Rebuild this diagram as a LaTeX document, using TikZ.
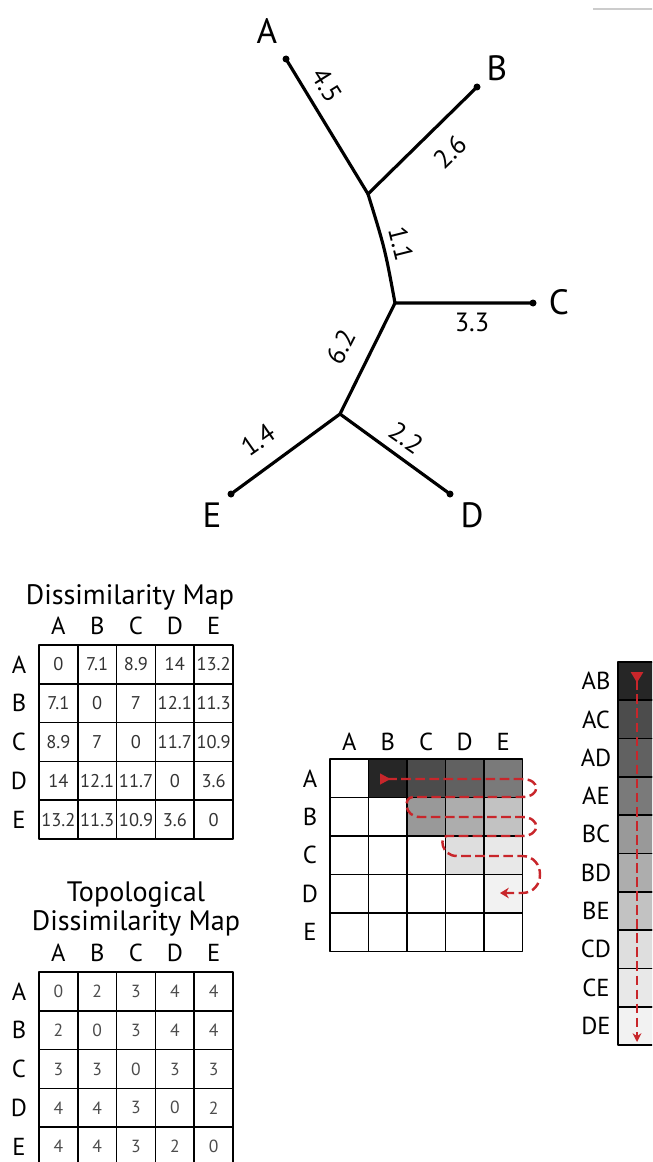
\documentclass[tikz,border=0pt]{standalone}
\usepackage{fontspec}
\setmainfont{PT Sans}
\usetikzlibrary{arrows.meta}
\definecolor{snakeRed}{HTML}{C8262B}
\tikzset{
  branch/.style={line width=1.8pt, line cap=round},
  leafdot/.style={circle, fill=black, inner sep=0pt, minimum size=1.4mm},
  taxon/.style={font=\fontsize{20}{22}\selectfont},
  blen/.style={font=\fontsize{15}{17}\selectfont, inner sep=1pt},
  maptitle/.style={font=\fontsize{16}{16.5}\selectfont, align=center},
  axislbl/.style={font=\fontsize{14}{16}\selectfont},
  cellbox/.style={draw=black, line width=1pt},
  cellnum/.style={font=\fontsize{10.5}{12}\selectfont, text=black!80},
  topnum/.style={font=\fontsize{10}{12}\selectfont, text=black!70},
  snake/.style={draw=snakeRed, line width=1.4pt, dash pattern=on 5.5pt off 2.5pt}
}

\begin{document}
\begin{tikzpicture}[x=0.02cm, y=-0.02cm, line join=round]
\useasboundingbox (0,0) rectangle (652,1162);
\clip (0,0) rectangle (652,1162);
% size of one matrix cell
\def\cellw{38.8}
% faint rule in the top right corner
\draw[black!20, line width=1.2pt] (593,9) -- (660,9);
% ---------------- tree ----------------
\node[leafdot] (A) at (286,59) {};
\node[leafdot] (B) at (477,87) {};
\node[leafdot] (C) at (533,303) {};
\node[leafdot] (D) at (450,494) {};
\node[leafdot] (E) at (231,494) {};
\coordinate (uAB) at (368,194);   % joins A and B
\coordinate (uC) at (395,303);    % joins C
\coordinate (uDE) at (340,414);   % joins D and E
\draw[branch] (A.center) -- (uAB) -- (B.center);
\draw[branch] (uAB) .. controls (385,249) .. (uC) -- (C.center);
\draw[branch] (uC) -- (uDE) -- (E.center);
\draw[branch] (uDE) -- (D.center);
\node[taxon] (labA) at (267,31) {A};
\node[taxon] (labB) at (497,68) {B};
\node[taxon] (labC) at (559,302) {C};
\node[taxon] (labD) at (472,515) {D};
\node[taxon] (labE) at (212,515) {E};
% branch lengths
\node[blen, rotate=-58] (lenA) at (327,85) {4.5};
\node[blen, rotate=44] (lenB) at (450,152) {2.6};
\node[blen, rotate=-76] (lenAB) at (401,244) {1.1};
\node[blen] (lenC) at (472,322) {3.3};
\node[blen, rotate=63] (lenDE) at (341,347) {6.2};
\node[blen, rotate=35] (lenE) at (258,440) {1.4};
\node[blen, rotate=-35] (lenD) at (406,438) {2.2};
% ---------------- Dissimilarity Map ----------------
\begin{scope}[shift={(39,645)}]
  \node[maptitle] (disTitle) at (91,-48) {Dissimilarity Map};
  \foreach \name [count=\j] in {A,B,C,D,E} {
    \node[axislbl] (disCol\name) at ({(\j-0.5)*\cellw},-19) {\name};
    \node[axislbl] (disRow\name) at (-20,{(\j-0.5)*\cellw}) {\name};
  }
  \foreach \vals [count=\i] in {{0,7.1,8.9,14,13.2},{7.1,0,7,12.1,11.3},{8.9,7,0,11.7,10.9},{14,12.1,11.7,0,3.6},{13.2,11.3,10.9,3.6,0}} {
    \foreach \v [count=\j] in \vals {
      \draw[cellbox] ({(\j-1)*\cellw},{(\i-1)*\cellw}) rectangle ++(\cellw,\cellw);
      \node[cellnum] (dis-\i-\j) at ({(\j-0.5)*\cellw},{(\i-0.5)*\cellw}) {\v};
    }
  }
\end{scope}
% ---------------- Topological Dissimilarity Map ----------------
\begin{scope}[shift={(39,972)}]
  \node[maptitle] (topTitle) at (97,-63) {Topological\\Dissimilarity Map};
  \foreach \name [count=\j] in {A,B,C,D,E} {
    \node[axislbl] (topCol\name) at ({(\j-0.5)*\cellw},-19) {\name};
    \node[axislbl] (topRow\name) at (-20,{(\j-0.5)*\cellw}) {\name};
  }
  \foreach \vals [count=\i] in {{0,2,3,4,4},{2,0,3,4,4},{3,3,0,3,3},{4,4,3,0,2},{4,4,3,2,0}} {
    \foreach \v [count=\j] in \vals {
      \draw[cellbox] ({(\j-1)*\cellw},{(\i-1)*\cellw}) rectangle ++(\cellw,\cellw);
      \node[topnum] (top-\i-\j) at ({(\j-0.5)*\cellw},{(\i-0.5)*\cellw}) {\v};
    }
  }
\end{scope}
% ---------------- upper triangle read in order ----------------
\begin{scope}[shift={(330,759)}]
  % shade the pairs above the diagonal, darkest first
  \foreach \i/\j/\g in {1/2/85,1/3/70,1/4/62,1/5/52,2/3/40,2/4/32,2/5/24,3/4/13,3/5/9,4/5/5}
    \fill[black!\g] ({(\j-1)*38.5},{(\i-1)*38.5}) rectangle ++(38.5,38.5);
  \foreach \name [count=\j] in {A,B,C,D,E} {
    \node[axislbl] (triCol\name) at ({(\j-0.5)*38.5},-17) {\name};
    \node[axislbl] (triRow\name) at (-20,{(\j-0.5)*38.5}) {\name};
    \foreach \i in {1,...,5}
      \draw[cellbox] ({(\j-1)*38.5},{(\i-1)*38.5}) rectangle ++(38.5,38.5);
  }
\end{scope}
\coordinate (snakeStart) at (380,779);
\coordinate (snakeEnd) at (500,893);
\draw[snake, {Triangle[reversed,length=6pt,width=6pt]}-{Stealth[length=5pt,width=6pt]}]
  (snakeStart) -- (522,779) .. controls (541,779) and (541,797) .. (522,797)
  -- (413,797) .. controls (403,797) and (404,817) .. (420,817)
  -- (522,817) .. controls (541,817) and (541,836) .. (522,836)
  -- (447,836) .. controls (439,836) and (441,856) .. (457,856)
  -- (522,856) .. controls (546,856) and (546,893) .. (522,893)
  -- (snakeEnd);
% ---------------- pairs as one column ----------------
\begin{scope}[shift={(618,662)}]
  \foreach \pair/\g [count=\k] in {AB/85,AC/70,AD/62,AE/52,BC/40,BD/32,BE/24,CD/13,CE/9,DE/5} {
    \draw[cellbox, fill=black!\g] (0,{(\k-1)*38.3}) rectangle ++(45,38.3);
    \node[axislbl] (pair\pair) at (-22,{(\k-0.5)*38.3}) {\pair};
  }
\end{scope}
\coordinate (colStart) at (637,672);
\coordinate (colEnd) at (637,1042);
\draw[snake, line width=1pt, {Triangle[reversed,length=6pt,width=7pt]}-{Stealth[length=5pt,width=5pt]}]
  (colStart) -- (colEnd);
\end{tikzpicture}
\end{document}
